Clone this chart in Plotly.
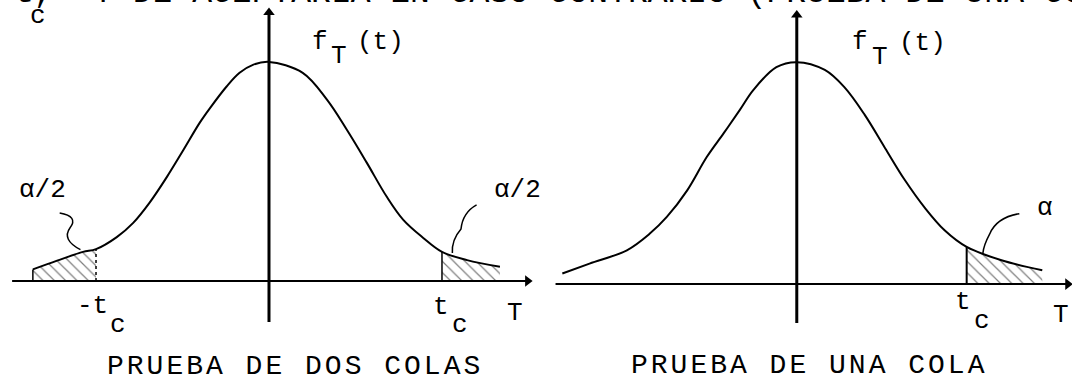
import plotly.graph_objects as go
from plotly.subplots import make_subplots

# valor critico
t_c = 2.0

# prueba de dos colas: curva f_T(t)
t_dos = [-2.73, -2.45, -2.15, -2.0, -1.76, -1.57, -1.38, -1.18, -0.99, -0.80, -0.68, -0.49, -0.34, -0.18, 0.0,
         0.39, 0.67, 0.90, 1.13, 1.36, 1.55, 1.78, 2.0, 2.29, 2.67]
f_dos = [0.021, 0.037, 0.053, 0.058, 0.080, 0.106, 0.143, 0.190, 0.239, 0.289, 0.316, 0.355, 0.380, 0.395, 0.400,
         0.380, 0.331, 0.276, 0.216, 0.154, 0.112, 0.079, 0.053, 0.038, 0.026]

# prueba de una cola
t_una = [-2.76, -2.44, -2.00, -1.73, -1.53, -1.29, -1.06, -0.86, -0.67, -0.51, -0.24, 0.0,
         0.33, 0.56, 0.80, 1.04, 1.27, 1.51, 1.74, 2.00, 2.41, 2.89]
f_una = [0.019, 0.037, 0.061, 0.091, 0.121, 0.169, 0.229, 0.272, 0.314, 0.350, 0.391, 0.400,
         0.386, 0.355, 0.305, 0.245, 0.188, 0.137, 0.097, 0.067, 0.043, 0.025]

titulos = ["PRUEBA DE DOS COLAS", "PRUEBA DE UNA COLA"]
linea_sup = "t,  Y DE ACEPTARLA EN CASO CONTRARIO (PRUEBA DE UNA COLA)"

FONT = "Liberation Mono"
NEGRO = "black"
patron = dict(shape="\\", fgcolor=NEGRO, bgcolor="white", size=8, solidity=0.15)

fig = make_subplots(rows=1, cols=2, horizontal_spacing=0)


def f_en(ts, fs, t):
    return fs[ts.index(t)]


def curva(ts, fs, col):
    fig.add_trace(go.Scatter(x=ts, y=fs, mode="lines", line=dict(color=NEGRO, width=2, shape="spline"),
                             hoverinfo="skip"), row=1, col=col)


def cola(ts, fs, col):
    fig.add_trace(go.Scatter(x=ts, y=fs, mode="lines", line=dict(width=0, shape="spline"),
                             fill="tozeroy", fillcolor="white", fillpattern=patron, hoverinfo="skip"),
                  row=1, col=col)


def vertical(t, f, col, dash="solid", width=2):
    fig.add_trace(go.Scatter(x=[t, t], y=[0, f], mode="lines", line=dict(color=NEGRO, width=width, dash=dash),
                             hoverinfo="skip"), row=1, col=col)


def ejes(x0, x1, y0, y1, col):
    fig.add_trace(go.Scatter(x=[x0, x1], y=[0, 0], mode="lines", line=dict(color=NEGRO, width=2),
                             hoverinfo="skip"), row=1, col=col)
    fig.add_trace(go.Scatter(x=[0, 0], y=[y0, y1], mode="lines", line=dict(color=NEGRO, width=3),
                             hoverinfo="skip"), row=1, col=col)
    fig.add_trace(go.Scatter(x=[x1, 0], y=[0, y1], mode="markers",
                             marker=dict(symbol=["triangle-right", "triangle-up"], size=10, color=NEGRO),
                             hoverinfo="skip"), row=1, col=col)


def texto(txt, x, y, col, size=26, xanchor="center"):
    xr = "x" if col == 1 else "x2"
    yr = "y" if col == 1 else "y2"
    fig.add_annotation(x=x, y=y, xref=xr, yref=yr, text=txt, showarrow=False, xanchor=xanchor,
                       yanchor="middle", font=dict(family=FONT, size=size, color=NEGRO))


def espaciado(txt):
    # la maquina de escribir deja mas aire entre letras
    return '<span style="letter-spacing:3px">' + txt + '</span>'


# ---- panel izquierdo: dos colas
izq = [(t, f) for t, f in zip(t_dos, f_dos) if t <= -t_c]
der = [(t, f) for t, f in zip(t_dos, f_dos) if t >= t_c]
cola([p[0] for p in izq], [p[1] for p in izq], 1)
cola([p[0] for p in der], [p[1] for p in der], 1)
curva(t_dos, f_dos, 1)
vertical(t_dos[0], f_dos[0], 1, width=1.5)
vertical(-t_c, f_en(t_dos, f_dos, -t_c), 1, dash="dot", width=1.5)
vertical(t_c, f_en(t_dos, f_dos, t_c), 1, width=1.5)
ejes(-2.97, 2.99, -0.075, 0.49, 1)

# ---- panel derecho: una cola
der = [(t, f) for t, f in zip(t_una, f_una) if t >= t_c]
cola([p[0] for p in der], [p[1] for p in der], 2)
curva(t_una, f_una, 2)
vertical(t_c, f_en(t_una, f_una, t_c), 2, width=2)
ejes(-2.84, 3.19, -0.070, 0.485, 2)

# flechitas que senalan las areas
leaders = [
    ("x", "y", "M -2.42,0.124 Q -2.2,0.118 -2.3,0.097 Q -2.4,0.075 -2.18,0.057"),
    ("x", "y", "M 2.40,0.139 Q 2.24,0.125 2.22,0.095 Q 2.11,0.075 2.12,0.051"),
    ("x2", "y2", "M 2.62,0.127 Q 2.35,0.12 2.27,0.09 Q 2.2,0.07 2.19,0.055"),
]
for xr, yr, p in leaders:
    fig.add_shape(type="path", path=p, xref=xr, yref=yr, line=dict(color=NEGRO, width=1.5))

# etiquetas panel izquierdo
texto("f", 0.59, 0.437, 1)
texto("T", 0.81, 0.410, 1)
texto("(t)", 0.99, 0.436, 1, xanchor="left")
texto("α/2", -2.62, 0.166, 1)
texto("α/2", 2.87, 0.166, 1)
texto("-t", -1.84, -0.046, 1, xanchor="right")
texto("c", -1.75, -0.080, 1)
texto("t", 1.99, -0.047, 1)
texto("c", 2.21, -0.080, 1)
texto("T", 2.84, -0.059, 1)
texto(espaciado(titulos[0]), 0.30, -0.157, 1, size=28)

# etiquetas panel derecho
texto("f", 0.75, 0.436, 2)
texto("T", 0.98, 0.409, 2)
texto("(t)", 1.18, 0.434, 2, xanchor="left")
texto("α", 2.92, 0.138, 2)
texto("t", 1.96, -0.032, 2)
texto("c", 2.18, -0.067, 2)
texto("T", 3.11, -0.056, 2)
texto(espaciado(titulos[1]), 0.14, -0.147, 2, size=28)

# renglon superior cortado por el borde
fig.add_annotation(x=12 / 1072, y=1, xref="paper", yref="paper", xanchor="left", yanchor="bottom",
                   yshift=-14, text=linea_sup, showarrow=False, font=dict(family=FONT, size=33, color=NEGRO))
fig.add_annotation(x=38 / 1072, y=1, xref="paper", yref="paper", xanchor="center", yanchor="middle",
                   yshift=-16, text="c", showarrow=False, font=dict(family=FONT, size=26, color=NEGRO))

fig.update_xaxes(visible=False, showgrid=False, zeroline=False)
fig.update_yaxes(visible=False, showgrid=False, zeroline=False)
fig.update_xaxes(range=[-3.11, 3.087], row=1, col=1)
fig.update_xaxes(range=[-3.07, 3.24], row=1, col=2)
fig.update_yaxes(range=[-0.170, 0.513], row=1, col=1)
fig.update_yaxes(range=[-0.162, 0.512], row=1, col=2)
fig.update_layout(width=1072, height=374, margin=dict(l=0, r=0, t=0, b=0), showlegend=False,
                  plot_bgcolor="white", paper_bgcolor="white")
# sin el margen por defecto del body, la figura ocupa toda la ventana
fig.write_html("out.html", config={"displayModeBar": False},
               post_script="document.body.style.margin='0';")
